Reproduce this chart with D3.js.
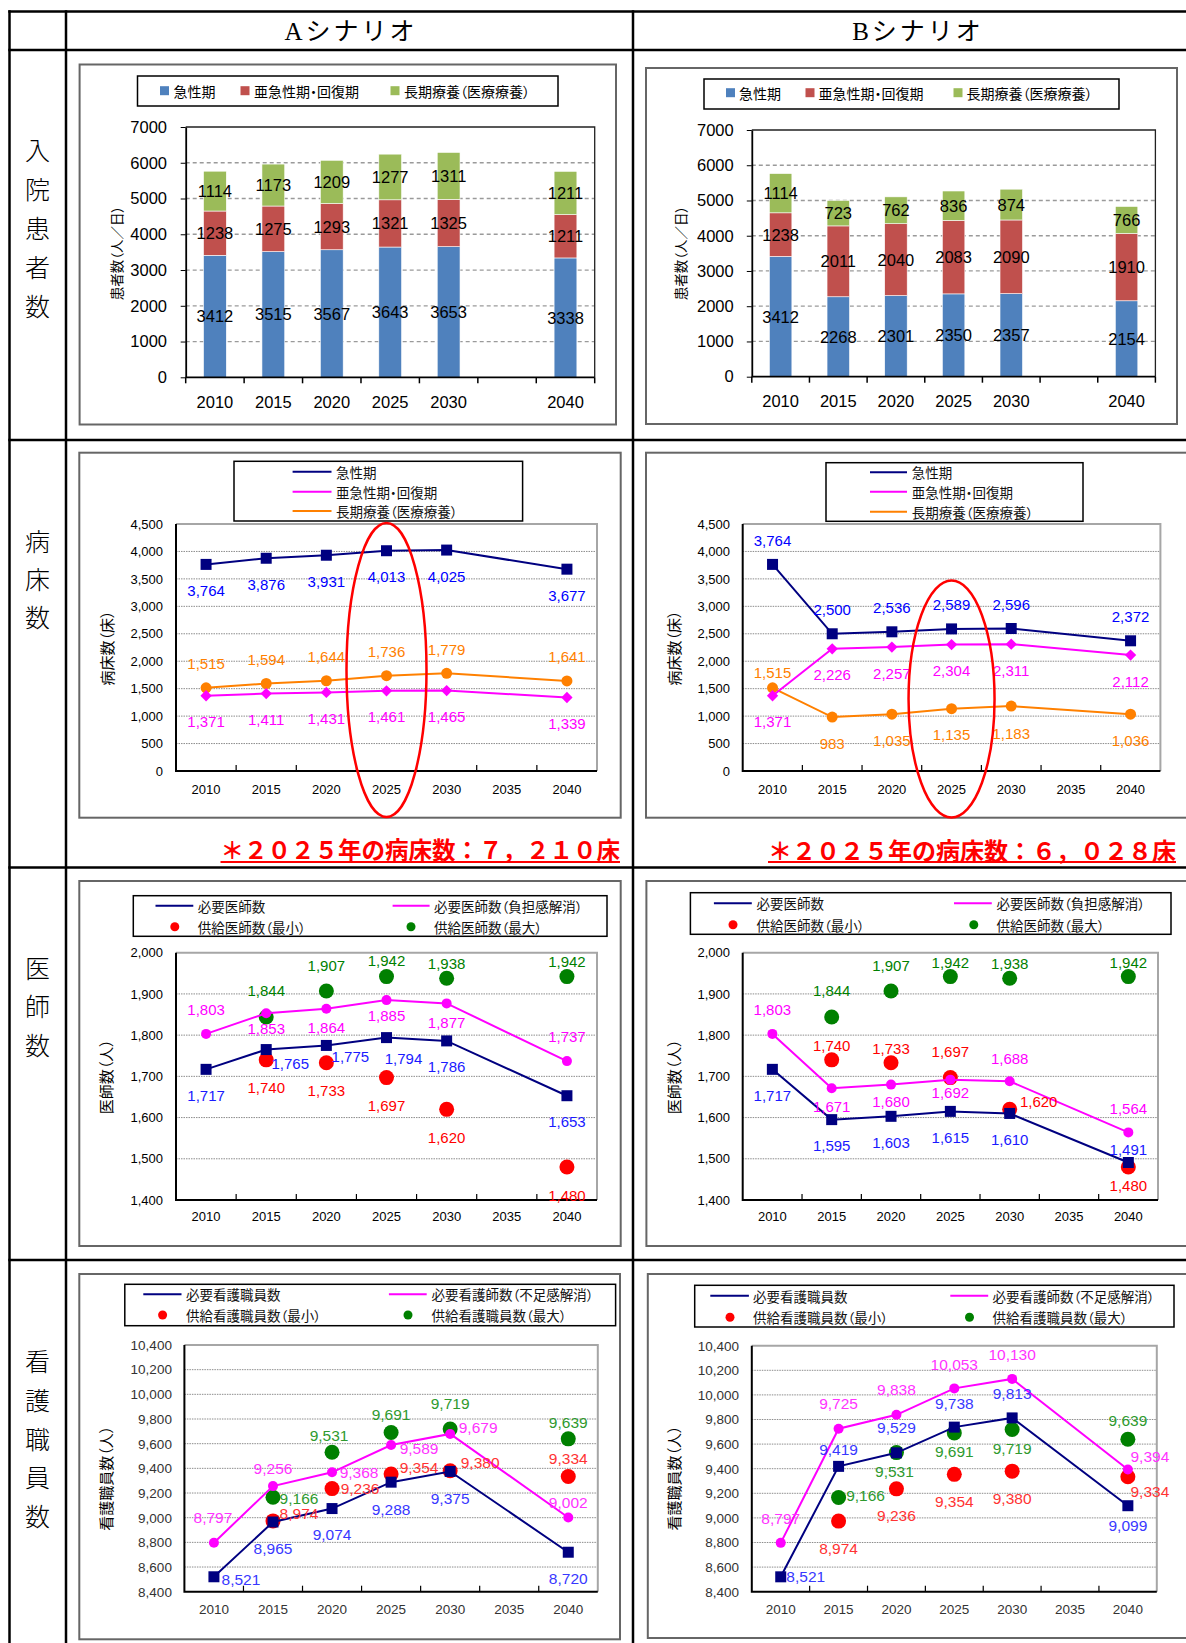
<!DOCTYPE html>
<html>
<head>
<meta charset="utf-8">
<script src="https://cdn.jsdelivr.net/npm/d3@7"></script>
<style>
body { margin: 0; background: #fff; }
svg { display: block; }
text.jp { font-feature-settings: "palt"; }
</style>
</head>
<body>
<svg id="page" width="1186" height="1643"></svg>
<script>
// ---- data ----
const xCategories = ["2010", "2015", "2020", "2025", "2030", "2035", "2040"];

// 入院患者数（人／日）
const patientNames = ["急性期", "亜急性期・回復期", "長期療養（医療療養）"];
const patientsA_acute = [3412, 3515, 3567, 3643, 3653, null, 3338];
const patientsA_subacute = [1238, 1275, 1293, 1321, 1325, null, 1211];
const patientsA_longterm = [1114, 1173, 1209, 1277, 1311, null, 1211];
const patientsB_acute = [3412, 2268, 2301, 2350, 2357, null, 2154];
const patientsB_subacute = [1238, 2011, 2040, 2083, 2090, null, 1910];
const patientsB_longterm = [1114, 723, 762, 836, 874, null, 766];

// 病床数（床）
const bedsA_acute = [3764, 3876, 3931, 4013, 4025, null, 3677];
const bedsA_subacute = [1371, 1411, 1431, 1461, 1465, null, 1339];
const bedsA_longterm = [1515, 1594, 1644, 1736, 1779, null, 1641];
const bedsB_acute = [3764, 2500, 2536, 2589, 2596, null, 2372];
const bedsB_subacute = [1371, 2226, 2257, 2304, 2311, null, 2112];
const bedsB_longterm = [1515, 983, 1035, 1135, 1183, null, 1036];
const bedNoteA = "＊２０２５年の病床数：７，２１０床";
const bedNoteB = "＊２０２５年の病床数：６，０２８床";

// 医師数（人）
const doctorNames = ["必要医師数", "必要医師数（負担感解消）", "供給医師数（最小）", "供給医師数（最大）"];
const doctorsA_need = [1717, 1765, 1775, 1794, 1786, null, 1653];
const doctorsA_relief = [1803, 1853, 1864, 1885, 1877, null, 1737];
const doctorsB_need = [1717, 1595, 1603, 1615, 1610, null, 1491];
const doctorsB_relief = [1803, 1671, 1680, 1692, 1688, null, 1564];
const doctorSupplyMin = [null, 1740, 1733, 1697, 1620, null, 1480];
const doctorSupplyMax = [null, 1844, 1907, 1942, 1938, null, 1942];

// 看護職員数（人）
const nurseNames = ["必要看護職員数", "必要看護師数（不足感解消）", "供給看護職員数（最小）", "供給看護職員数（最大）"];
const nursesA_need = [8521, 8965, 9074, 9288, 9375, null, 8720];
const nursesA_relief = [8797, 9256, 9368, 9589, 9679, null, 9002];
const nursesB_need = [8521, 9419, 9529, 9738, 9813, null, 9099];
const nursesB_relief = [8797, 9725, 9838, 10053, 10130, null, 9394];
const nurseSupplyMin = [null, 8974, 9236, 9354, 9380, null, 9334];
const nurseSupplyMax = [null, 9166, 9531, 9691, 9719, null, 9639];

// ---- styling ----
const NUM_FONT = '"Liberation Sans","Noto Sans CJK JP",sans-serif';
const JP_FONT = '"Noto Sans CJK JP",sans-serif';
const SERIF_FONT = '"Liberation Serif","Noto Sans CJK JP",serif';
const C = {
	barBlue: "#4f81bd", barRed: "#c0504d", barGreen: "#9bbb59",
	navy: "#000080", magenta: "#ff00ff", orange: "#ff8000",
	red: "#ff0000", green: "#008000"
};

const svg = d3.select("#page");
svg.append("rect").attr("width", 1186).attr("height", 1643).attr("fill", "#fff");

function same(dx, dy) {
	return xCategories.map(() => [dx, dy]);
}

// ---- table frame ----
function drawTable() {
	const g = svg.append("g").attr("class", "table");
	const hLines = [11.5, 50, 440, 867.5, 1260];
	const vLines = [9.5, 66, 633];
	g.selectAll(".h").data(hLines).enter().append("line")
		.attr("x1", 8.3).attr("x2", 1186).attr("y1", d => d).attr("y2", d => d)
		.attr("stroke", "#000").attr("stroke-width", 2.5);
	g.selectAll(".v").data(vLines).enter().append("line")
		.attr("x1", d => d).attr("x2", d => d).attr("y1", 10.3).attr("y2", 1643)
		.attr("stroke", "#000").attr("stroke-width", 2.5);

	g.append("text").attr("x", 351).attr("y", 31.5).attr("text-anchor", "middle")
		.attr("dominant-baseline", "central").attr("font-family", SERIF_FONT)
		.attr("font-size", 25).attr("letter-spacing", 3).text("Aシナリオ");
	g.append("text").attr("x", 918).attr("y", 31.5).attr("text-anchor", "middle")
		.attr("dominant-baseline", "central").attr("font-family", SERIF_FONT)
		.attr("font-size", 25).attr("letter-spacing", 3).text("Bシナリオ");

	const rowLabels = [
		{ text: "入院患者数", y0: 149, step: 39 },
		{ text: "病床数", y0: 540, step: 38 },
		{ text: "医師数", y0: 967, step: 38.3 },
		{ text: "看護職員数", y0: 1360, step: 38.8 }
	];
	rowLabels.forEach(r => {
		g.selectAll(null).data(Array.from(r.text)).enter().append("text")
			.attr("x", 37.5).attr("y", (_, i) => r.y0 + i * r.step)
			.attr("text-anchor", "middle").attr("dominant-baseline", "central")
			.attr("font-family", JP_FONT).attr("font-weight", 300).attr("font-size", 25)
			.text(d => d);
	});
}

function drawBox(g, box) {
	g.append("rect").attr("x", box[0]).attr("y", box[1])
		.attr("width", box[2] - box[0]).attr("height", box[3] - box[1])
		.attr("fill", "#fff").attr("stroke", "#666").attr("stroke-width", 2);
}

function drawYTitle(g, t, size) {
	g.append("text").attr("class", "jp").attr("transform", `translate(${t.x},${t.y}) rotate(-90)`)
		.attr("text-anchor", "middle").attr("dominant-baseline", "central")
		.attr("font-family", JP_FONT).attr("font-size", size).text(t.text);
}

// ---- stacked bar chart ----
function drawBarChart(cfg) {
	const g = svg.append("g");
	const p = cfg.plot;
	drawBox(g, cfg.box);

	// legend
	const lb = cfg.legend.box;
	g.append("rect").attr("x", lb[0]).attr("y", lb[1]).attr("width", lb[2] - lb[0]).attr("height", lb[3] - lb[1])
		.attr("fill", "#fff").attr("stroke", "#000").attr("stroke-width", 1.5);
	cfg.legend.items.forEach((it, k) => {
		g.append("rect").attr("x", it.sx - 4.5).attr("y", cfg.legend.y - 4.5).attr("width", 9).attr("height", 9)
			.attr("fill", cfg.series[k].color);
		g.append("text").attr("class", "jp").attr("x", it.tx).attr("y", cfg.legend.y).attr("dominant-baseline", "central")
			.attr("font-family", JP_FONT).attr("font-size", 14).text(cfg.series[k].name);
	});

	const x = d3.scaleBand().domain(xCategories).range([p[0], p[2]]);
	const y = d3.scaleLinear().domain([0, 7000]).range([p[3], p[1]]);
	const bw = x.bandwidth() * 0.39;

	g.selectAll(".grid").data(d3.range(1000, 7000, 1000)).enter().append("line")
		.attr("x1", p[0]).attr("x2", p[2]).attr("y1", d => y(d)).attr("y2", d => y(d))
		.attr("stroke", "#9a9a9a").attr("stroke-width", 1.3).attr("stroke-dasharray", "4,3");
	g.append("path").attr("d", `M${p[0]},${p[1]}H${p[2]}V${p[3]}`)
		.attr("fill", "none").attr("stroke", "#222").attr("stroke-width", 1.3);

	const rows = xCategories.map((_, i) => cfg.series.map(s => s.values[i] ?? 0));
	const layers = d3.stack().keys([0, 1, 2]).value((d, k) => d[k])(rows);
	layers.forEach((layer, k) => {
		const pts = layer.map((d, i) => ({ d, i })).filter(o => cfg.series[k].values[o.i] != null);
		g.selectAll(null).data(pts).enter().append("rect")
			.attr("x", o => x(xCategories[o.i]) + (x.bandwidth() - bw) / 2)
			.attr("y", o => y(o.d[1])).attr("width", bw)
			.attr("height", o => y(o.d[0]) - y(o.d[1]))
			.attr("fill", cfg.series[k].color).attr("stroke", "#fff").attr("stroke-width", 0.6);
		g.selectAll(null).data(pts).enter().append("text")
			.attr("x", o => x(xCategories[o.i]) + x.bandwidth() / 2)
			.attr("y", o => y((o.d[0] + o.d[1]) / 2))
			.attr("text-anchor", "middle").attr("dominant-baseline", "central")
			.attr("font-family", NUM_FONT).attr("font-size", 16.5)
			.text(o => cfg.series[k].values[o.i]);
	});

	const gy = g.append("g").attr("transform", `translate(${p[0]},0)`)
		.call(d3.axisLeft(y).tickValues(d3.range(0, 7001, 1000)).tickSizeInner(5).tickSizeOuter(0)
			.tickPadding(p[0] - cfg.yLabelRight - 5).tickFormat(d3.format("d")));
	gy.attr("font-family", NUM_FONT).attr("font-size", 16.5);
	gy.select(".domain").attr("stroke", "#000").attr("stroke-width", 1.8);
	gy.selectAll("text").attr("fill", "#000");

	const gx = g.append("g").attr("transform", `translate(0,${p[3]})`)
		.call(d3.axisBottom(x).tickSize(0).tickFormat(d => (d === "2035" ? "" : d)));
	gx.attr("font-family", NUM_FONT).attr("font-size", 16.5);
	gx.select(".domain").remove();
	gx.selectAll("text").attr("y", cfg.xLabelY - p[3]).attr("dy", "0.35em").attr("fill", "#000");
	g.append("line").attr("x1", p[0]).attr("x2", p[2]).attr("y1", p[3]).attr("y2", p[3])
		.attr("stroke", "#000").attr("stroke-width", 1.8);
	g.selectAll(".xt").data(xCategories.map(c => x(c)).concat([p[2]])).enter().append("line")
		.attr("x1", d => d).attr("x2", d => d).attr("y1", p[3]).attr("y2", p[3] + 6)
		.attr("stroke", "#000").attr("stroke-width", 1.5);

	drawYTitle(g, cfg.yTitle, 13.5);
}

// ---- line / scatter chart ----
function drawLineChart(cfg) {
	const g = svg.append("g");
	const p = cfg.plot;
	drawBox(g, cfg.box);

	const lb = cfg.legend.box;
	g.append("rect").attr("x", lb[0]).attr("y", lb[1]).attr("width", lb[2] - lb[0]).attr("height", lb[3] - lb[1])
		.attr("fill", "#fff").attr("stroke", "#000").attr("stroke-width", 1.5);
	cfg.legend.items.forEach(it => {
		if (it.type === "line") {
			g.append("line").attr("x1", it.x0).attr("x2", it.x1).attr("y1", it.y).attr("y2", it.y)
				.attr("stroke", it.color).attr("stroke-width", 2);
		} else {
			g.append("circle").attr("cx", it.cx).attr("cy", it.y).attr("r", 4.5).attr("fill", it.color);
		}
		g.append("text").attr("class", "jp").attr("x", it.tx).attr("y", it.y).attr("dominant-baseline", "central")
			.attr("font-family", JP_FONT).attr("font-size", 13.5).attr("fill", "#111").text(it.label);
	});

	const x = d3.scaleBand().domain(xCategories).range([p[0], p[2]]);
	const y = d3.scaleLinear().domain(cfg.yDomain).range([p[3], p[1]]);
	const ticks = d3.range(cfg.yDomain[0], cfg.yDomain[1] + 1, cfg.yStep);
	const cx = i => x(xCategories[i]) + x.bandwidth() / 2;

	g.selectAll(".grid").data(ticks.slice(1, -1)).enter().append("line")
		.attr("x1", p[0]).attr("x2", p[2]).attr("y1", d => y(d)).attr("y2", d => y(d))
		.attr("stroke", "#8c8c8c").attr("stroke-width", 1).attr("stroke-dasharray", "1.5,1");
	g.append("path").attr("d", `M${p[0]},${p[1]}H${p[2]}V${p[3]}`)
		.attr("fill", "none").attr("stroke", "#a6a6a6").attr("stroke-width", 2);

	const gy = g.append("g").attr("transform", `translate(${p[0]},0)`)
		.call(d3.axisLeft(y).tickValues(ticks).tickSize(0).tickPadding(p[0] - cfg.yLabelRight)
			.tickFormat(d3.format(",")));
	gy.attr("font-family", NUM_FONT).attr("font-size", cfg.tickFont);
	gy.select(".domain").remove();
	gy.selectAll("text").attr("fill", cfg.tickColor);

	const gx = g.append("g").attr("transform", `translate(0,${p[3]})`)
		.call(d3.axisBottom(x).tickSize(0));
	gx.attr("font-family", NUM_FONT).attr("font-size", cfg.tickFont);
	gx.select(".domain").remove();
	gx.selectAll("text").attr("y", cfg.xLabelY - p[3]).attr("dy", "0.35em").attr("fill", cfg.tickColor);

	g.append("path").attr("d", `M${p[0]},${p[1]}V${p[3]}H${p[2]}`)
		.attr("fill", "none").attr("stroke", "#000").attr("stroke-width", 2);
	g.selectAll(".xt").data(xCategories.slice(1).map(c => x(c))).enter().append("line")
		.attr("x1", d => d).attr("x2", d => d).attr("y1", p[3]).attr("y2", p[3] - 6)
		.attr("stroke", "#000").attr("stroke-width", 1.2);

	cfg.series.forEach(s => {
		const pts = s.values.map((v, i) => ({ v, i })).filter(o => o.v != null);
		if (s.line) {
			g.append("path").datum(pts)
				.attr("d", d3.line().x(o => cx(o.i)).y(o => y(o.v)))
				.attr("fill", "none").attr("stroke", s.color).attr("stroke-width", 2);
		}
		const shape = { square: d3.symbolSquare, circle: d3.symbolCircle, diamond: d3.symbolSquare }[s.marker];
		const area = s.marker === "circle" ? Math.PI * s.size * s.size / 4 : s.size * s.size;
		g.selectAll(null).data(pts).enter().append("path")
			.attr("d", d3.symbol(shape, area))
			.attr("transform", o => `translate(${cx(o.i)},${y(o.v)})` + (s.marker === "diamond" ? " rotate(45)" : ""))
			.attr("fill", s.color);
	});

	cfg.series.forEach(s => {
		const pts = s.values.map((v, i) => ({ v, i })).filter(o => o.v != null);
		g.selectAll(null).data(pts).enter().append("text")
			.attr("x", o => cx(o.i) + s.offsets[o.i][0])
			.attr("y", o => y(o.v) + s.offsets[o.i][1])
			.attr("text-anchor", "middle").attr("dominant-baseline", "central")
			.attr("font-family", NUM_FONT).attr("font-size", cfg.labelFont)
			.attr("fill", s.labelColor).text(o => d3.format(",")(o.v));
	});

	drawYTitle(g, cfg.yTitle, cfg.yTitleFont);

	if (cfg.ellipse) {
		const e = cfg.ellipse;
		g.append("ellipse").attr("cx", x("2025") + x.bandwidth() / 2).attr("cy", e.cy)
			.attr("rx", e.rx).attr("ry", e.ry)
			.attr("fill", "none").attr("stroke", "#ff0000").attr("stroke-width", 2.5);
	}
	return g;
}

function drawNote(n) {
	const t = svg.append("text").attr("x", n.right).attr("y", n.y).attr("text-anchor", "end")
		.attr("dominant-baseline", "central").attr("font-family", JP_FONT).attr("font-weight", 700)
		.attr("font-size", n.size).attr("fill", "#ff0000").text(n.text);
	const w = t.node().getComputedTextLength();
	svg.append("line").attr("x1", n.right - w).attr("x2", n.right).attr("y1", n.lineY).attr("y2", n.lineY)
		.attr("stroke", "#ff0000").attr("stroke-width", 2.2);
}

drawTable();

// row 1: 入院患者数
drawBarChart({
	box: [79.6, 64.5, 616, 424.5],
	legend: { box: [137.5, 76, 558, 106], y: 90.7, items: [{ sx: 164.5, tx: 173.5 }, { sx: 245, tx: 254 }, { sx: 395, tx: 404 }] },
	plot: [185.7, 127, 594.7, 377.3],
	yLabelRight: 167, xLabelY: 402.7,
	yTitle: { x: 115.5, y: 253, text: "患者数（人／日）" },
	series: [
		{ name: patientNames[0], values: patientsA_acute, color: C.barBlue },
		{ name: patientNames[1], values: patientsA_subacute, color: C.barRed },
		{ name: patientNames[2], values: patientsA_longterm, color: C.barGreen }
	]
});
drawBarChart({
	box: [646, 68, 1177, 424],
	legend: { box: [704, 79, 1119, 109], y: 92.7, items: [{ sx: 730.5, tx: 739 }, { sx: 810, tx: 818.5 }, { sx: 958, tx: 966.6 }] },
	plot: [751.8, 130, 1155.4, 376.7],
	yLabelRight: 733.7, xLabelY: 401,
	yTitle: { x: 679.6, y: 253, text: "患者数（人／日）" },
	series: [
		{ name: patientNames[0], values: patientsB_acute, color: C.barBlue },
		{ name: patientNames[1], values: patientsB_subacute, color: C.barRed },
		{ name: patientNames[2], values: patientsB_longterm, color: C.barGreen }
	]
});

// row 2: 病床数
const bedLegend = (box, x0, x1, tx, ys) => ({
	box,
	items: patientNames.map((label, k) => ({ type: "line", x0, x1, tx, y: ys[k], label, color: [C.navy, C.magenta, C.orange][k] }))
});
drawLineChart({
	box: [79.3, 452.7, 620.7, 817.7],
	legend: bedLegend([234, 461.3, 522.6, 521], 292.6, 331.5, 336, [471.7, 491.7, 511]),
	plot: [176, 524, 597, 771],
	yDomain: [0, 4500], yStep: 500, yLabelRight: 163, xLabelY: 789,
	tickFont: 13, tickColor: "#000", labelFont: 15, yTitleFont: 15,
	yTitle: { x: 106, y: 648, text: "病床数（床）" },
	ellipse: { cy: 670, rx: 40, ry: 147 },
	series: [
		{ values: bedsA_longterm, color: C.orange, line: true, marker: "circle", size: 11, labelColor: C.orange, offsets: same(0, -24) },
		{ values: bedsA_subacute, color: C.magenta, line: true, marker: "diamond", size: 8, labelColor: C.magenta, offsets: same(0, 26) },
		{ values: bedsA_acute, color: C.navy, line: true, marker: "square", size: 11, labelColor: "#0000ff", offsets: same(0, 26) }
	]
});
drawLineChart({
	box: [646, 452.7, 1192, 817.7],
	legend: bedLegend([826, 462.7, 1083, 521.3], 870, 907, 911.7, [472.3, 491.7, 511.7]),
	plot: [742.7, 524, 1160.4, 771],
	yDomain: [0, 4500], yStep: 500, yLabelRight: 730, xLabelY: 789,
	tickFont: 13, tickColor: "#000", labelFont: 15, yTitleFont: 15,
	yTitle: { x: 673, y: 648, text: "病床数（床）" },
	ellipse: { cy: 699, rx: 43, ry: 118.5 },
	series: [
		{ values: bedsB_longterm, color: C.orange, line: true, marker: "circle", size: 11, labelColor: C.orange,
			offsets: [[0, -15], [0, 26], [0, 26], [0, 26], [0, 27], null, [0, 26]] },
		{ values: bedsB_subacute, color: C.magenta, line: true, marker: "diamond", size: 8, labelColor: C.magenta, offsets: same(0, 26) },
		{ values: bedsB_acute, color: C.navy, line: true, marker: "square", size: 11, labelColor: "#0000ff", offsets: same(0, -24) }
	]
});
drawNote({ text: bedNoteA, right: 620, y: 849, lineY: 862, size: 23.5 });
drawNote({ text: bedNoteB, right: 1176, y: 849, lineY: 862, size: 24 });

// row 3: 医師数
const twoColLegend = (names, box, c1, c2, tx1, tx2, y1, y2) => ({
	box,
	items: [
		{ type: "line", x0: c1[0], x1: c1[1], tx: tx1, y: y1, label: names[0], color: C.navy },
		{ type: "line", x0: c2[0], x1: c2[1], tx: tx2, y: y1, label: names[1], color: C.magenta },
		{ type: "dot", cx: c1[2], tx: tx1, y: y2, label: names[2], color: C.red },
		{ type: "dot", cx: c2[2], tx: tx2, y: y2, label: names[3], color: C.green }
	]
});
drawLineChart({
	box: [79.3, 881, 620.7, 1246],
	legend: twoColLegend(doctorNames, [133.3, 895.7, 607, 936.3], [155.5, 193.3, 174.8], [392.6, 429.6, 411], 197.8, 434, 905.7, 926.7),
	plot: [176, 952.7, 597, 1200],
	yDomain: [1400, 2000], yStep: 100, yLabelRight: 163, xLabelY: 1216.7,
	tickFont: 13, tickColor: "#000", labelFont: 15, yTitleFont: 15,
	yTitle: { x: 105, y: 1076.7, text: "医師数（人）" },
	series: [
		{ values: doctorSupplyMin, color: C.red, line: false, marker: "circle", size: 15, labelColor: C.red, offsets: same(0, 28) },
		{ values: doctorSupplyMax, color: C.green, line: false, marker: "circle", size: 15, labelColor: C.green,
			offsets: [null, [0, -26], [0, -26], [0, -16], [0, -15], null, [0, -15]] },
		{ values: doctorsA_relief, color: C.magenta, line: true, marker: "circle", size: 10, labelColor: C.magenta,
			offsets: [[0, -24], [0, 15], [0, 19], [0, 15], [0, 19], null, [0, -25]] },
		{ values: doctorsA_need, color: C.navy, line: true, marker: "square", size: 11, labelColor: "#1a1aff",
			offsets: [[0, 26], [24, 14], [24, 11], [17, 21], [0, 26], null, [0, 26]] }
	]
});
drawLineChart({
	box: [646.4, 881, 1192, 1246],
	legend: twoColLegend(doctorNames, [690.4, 892.7, 1171, 934.3], [713.9, 751.8, 733], [954, 991.8, 973.8], 756.5, 996.5, 903.3, 924.7),
	plot: [742.7, 952.7, 1158, 1200],
	yDomain: [1400, 2000], yStep: 100, yLabelRight: 730, xLabelY: 1216.7,
	tickFont: 13, tickColor: "#000", labelFont: 15, yTitleFont: 15,
	yTitle: { x: 673.4, y: 1076.7, text: "医師数（人）" },
	series: [
		{ values: doctorSupplyMin, color: C.red, line: false, marker: "circle", size: 15, labelColor: C.red,
			offsets: [null, [0, -14], [0, -14], [0, -26], [29, -8], null, [0, 18]] },
		{ values: doctorSupplyMax, color: C.green, line: false, marker: "circle", size: 15, labelColor: C.green,
			offsets: [null, [0, -26], [0, -26], [0, -14], [0, -15], null, [0, -14]] },
		{ values: doctorsB_relief, color: C.magenta, line: true, marker: "circle", size: 10, labelColor: C.magenta,
			offsets: [[0, -24], [0, 18], [0, 17], [0, 13], [0, -23], null, [0, -24]] },
		{ values: doctorsB_need, color: C.navy, line: true, marker: "square", size: 11, labelColor: "#1a1aff",
			offsets: [[0, 26], [0, 26], [0, 26], [0, 26], [0, 26], null, [0, -13]] }
	]
});

// row 4: 看護職員数
drawLineChart({
	box: [79.3, 1274, 620, 1639.3],
	legend: twoColLegend(nurseNames, [124.8, 1284.3, 615.6, 1325.7], [143.3, 181.5, 162.6], [388.9, 426.7, 408], 186, 431.5, 1294.3, 1315),
	plot: [184.4, 1345, 597.8, 1591.7],
	yDomain: [8400, 10400], yStep: 200, yLabelRight: 171.9, xLabelY: 1609,
	tickFont: 13.5, tickColor: "#333", labelFont: 15.5, yTitleFont: 15,
	yTitle: { x: 105, y: 1478.3, text: "看護職員数（人）" },
	series: [
		{ values: nurseSupplyMin, color: C.red, line: false, marker: "circle", size: 15, labelColor: "#ff3333",
			offsets: [null, [26, -7], [28, 0], [28, -7], [30, -8], null, [0, -18]] },
		{ values: nurseSupplyMax, color: C.green, line: false, marker: "circle", size: 15, labelColor: "#2e9a2e",
			offsets: [null, [26, 1], [-3, -17], [0, -18], [0, -26], null, [0, -16]] },
		{ values: nursesA_relief, color: C.magenta, line: true, marker: "circle", size: 10, labelColor: "#ff33ff",
			offsets: [[-1, -25], [0, -18], [27, 0], [28, 3], [28, -6], null, [0, -15]] },
		{ values: nursesA_need, color: C.navy, line: true, marker: "square", size: 11, labelColor: "#3838ff",
			offsets: [[27, 3], [0, 26], [0, 26], [0, 27], [0, 27], null, [0, 26]] }
	]
});
drawLineChart({
	box: [647.8, 1274, 1192, 1638],
	legend: twoColLegend(nurseNames, [694.7, 1285.3, 1174, 1327], [710.3, 748.9, 730], [950.3, 988.2, 969.5], 752.9, 992.6, 1295.7, 1317.3),
	plot: [751.8, 1345.7, 1156.8, 1591.7],
	yDomain: [8400, 10400], yStep: 200, yLabelRight: 739, xLabelY: 1609,
	tickFont: 13.5, tickColor: "#333", labelFont: 15.5, yTitleFont: 15,
	yTitle: { x: 673.4, y: 1478, text: "看護職員数（人）" },
	series: [
		{ values: nurseSupplyMin, color: C.red, line: false, marker: "circle", size: 15, labelColor: "#ff3333",
			offsets: [null, [0, 27], [0, 27], [0, 27], [0, 27], null, [22, 15]] },
		{ values: nurseSupplyMax, color: C.green, line: false, marker: "circle", size: 15, labelColor: "#2e9a2e",
			offsets: [null, [27, -2], [-2, 19], [0, 19], [0, 19], null, [0, -19]] },
		{ values: nursesB_relief, color: C.magenta, line: true, marker: "circle", size: 10, labelColor: "#ff33ff",
			offsets: [[0, -24], [0, -25], [0, -25], [0, -24], [0, -24], null, [22, -13]] },
		{ values: nursesB_need, color: C.navy, line: true, marker: "square", size: 11, labelColor: "#3838ff",
			offsets: [[25, 0], [0, -17], [0, -25], [0, -24], [0, -24], null, [0, 20]] }
	]
});
</script>
</body>
</html>
